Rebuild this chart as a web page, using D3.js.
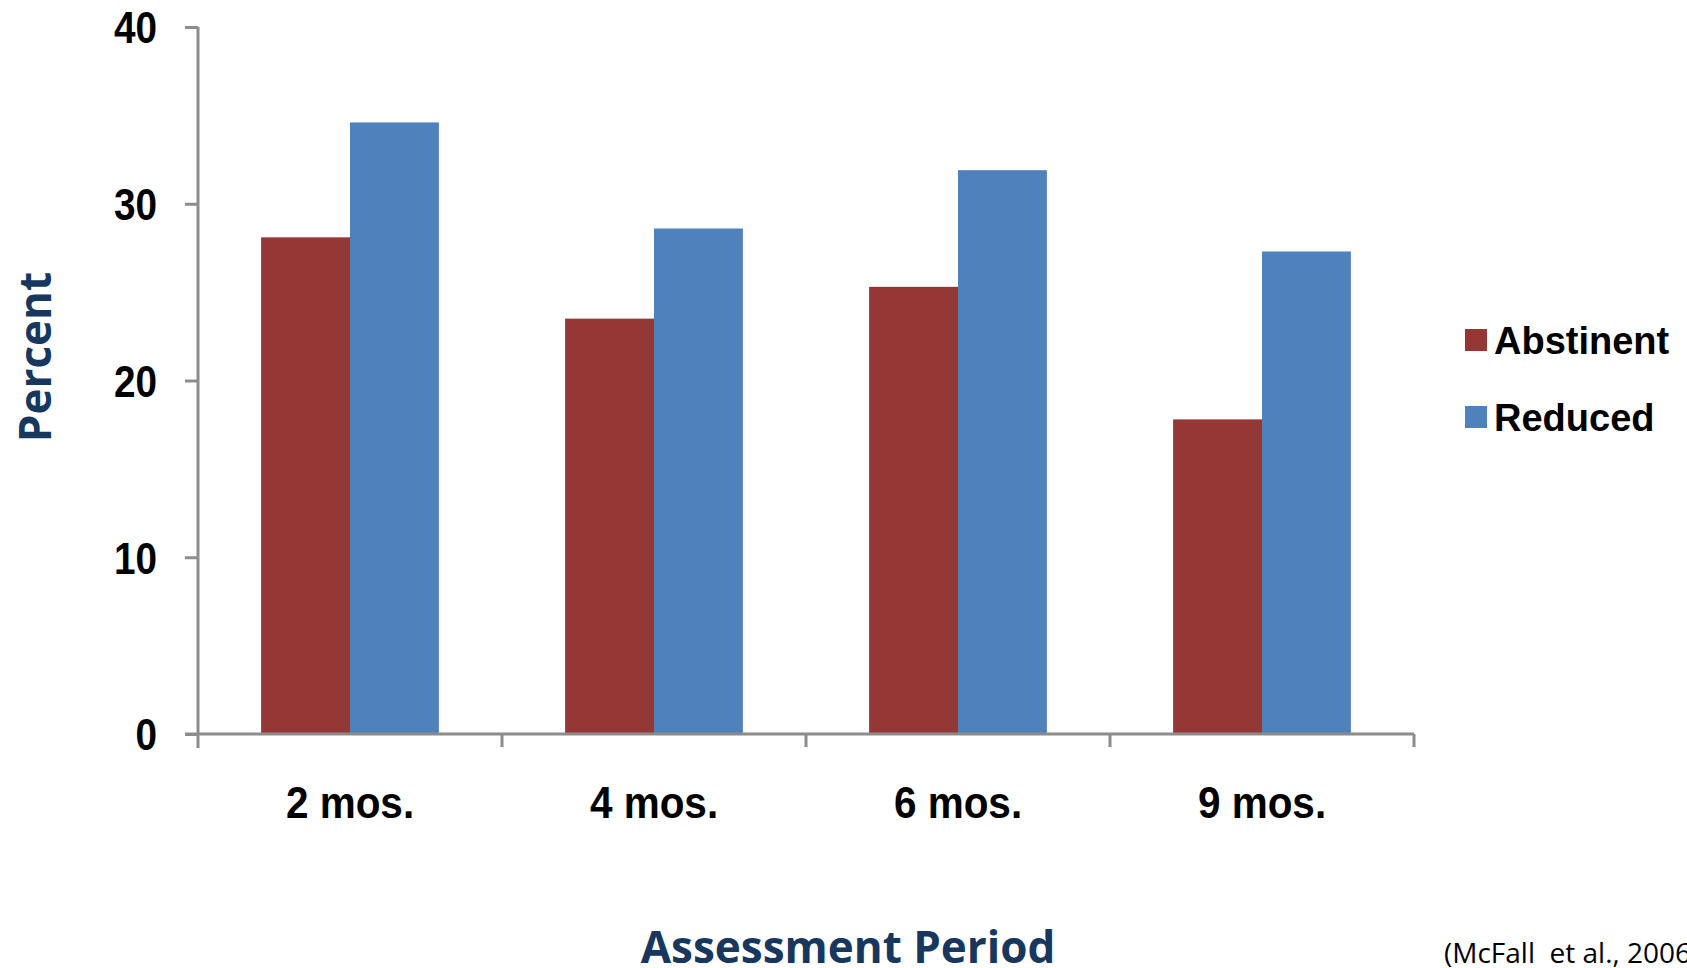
<!DOCTYPE html>
<html lang="en">
	<head>
		<meta charset="utf-8">
		<title>Assessment Period</title>
		<script type="text/javascript" src="https://cdn.jsdelivr.net/npm/d3@7"></script>
		<style type="text/css">
			html, body {
				margin: 0;
				padding: 0;
				background: #ffffff;
				overflow: hidden;
			}
			.narrow {
				font-family: "Liberation Sans", Arial, sans-serif;
				font-weight: bold;
			}
		</style>
	</head>
	<body>
		<script type="text/javascript">

			// data
			let periods = ["2 mos.", "4 mos.", "6 mos.", "9 mos."];
			let seriesNames = ["Abstinent", "Reduced"];
			let abstinent = [28.1, 23.5, 25.3, 17.8];
			let reduced = [34.6, 28.6, 31.9, 27.3];
			let yTicks = [0, 10, 20, 30, 40];

			let colors = ["#953735", "#4f81bd"];
			let axisColor = "#8c8c8c";
			let navy = "#17375e";

			//Width and height
			let w = 1687;
			let h = 968;

			let plotLeft = 198;
			let plotRight = 1414;
			let plotTop = 27;
			let plotBottom = 734;

			// squeeze bold Arial-like text so it looks like Arial Narrow
			function squeeze(sel, k) {
				sel.each(function () {
					let len = this.getComputedTextLength();
					d3.select(this)
						.attr("textLength", len * k)
						.attr("lengthAdjust", "spacingAndGlyphs");
				});
			}

			let svg = d3.select("body")
						.append("svg")
						.attr("width", w)
						.attr("height", h);

			let xScale = d3.scaleBand()
							.domain(periods)
							.range([plotLeft, plotRight])
							.paddingInner(0)
							.paddingOuter(0);

			let xInner = d3.scaleBand()
							.domain(seriesNames)
							.range([0, xScale.bandwidth()])
							.paddingOuter(0.71)
							.paddingInner(0);

			let yScale = d3.scaleLinear()
							.domain([0, 40])
							.range([plotBottom, plotTop]);

			// bars
			let rows = periods.map((p, i) => ({ period: p, values: [abstinent[i], reduced[i]] }));

			let groups = svg.selectAll("g.group")
				.data(rows)
				.enter()
				.append("g")
				.attr("class", "group")
				.attr("transform", (d) => "translate(" + xScale(d.period) + ",0)");

			groups.selectAll("rect")
				.data((d) => d.values.map((v, j) => ({ name: seriesNames[j], value: v, c: colors[j] })))
				.enter()
				.append("rect")
				.attr("x", (d) => xInner(d.name))
				.attr("y", (d) => yScale(d.value))
				.attr("width", xInner.bandwidth())
				.attr("height", (d) => plotBottom - yScale(d.value))
				.attr("fill", (d) => d.c);

			// y axis
			let yAxis = d3.axisLeft(yScale)
							.tickValues(yTicks)
							.tickSize(13)
							.tickPadding(28)
							.tickFormat(d3.format("d"));

			let gy = svg.append("g")
				.attr("transform", "translate(" + plotLeft + ",0)")
				.call(yAxis);

			gy.select(".domain").remove();
			gy.append("line")
				.attr("x1", 0).attr("x2", 0)
				.attr("y1", plotTop).attr("y2", plotBottom + 14)
				.attr("stroke", axisColor)
				.attr("stroke-width", 3);
			gy.selectAll(".tick line")
				.attr("stroke", axisColor)
				.attr("stroke-width", 3);
			gy.selectAll(".tick text")
				.attr("class", "narrow")
				.attr("fill", "#000")
				.attr("font-size", "44px")
				.attr("dy", "0.36em")
				.call(squeeze, 0.88);

			// x axis
			let xAxis = d3.axisBottom(xScale)
							.tickSize(0)
							.tickPadding(84);

			let gx = svg.append("g")
				.attr("transform", "translate(0," + plotBottom + ")")
				.call(xAxis);

			gx.select(".domain").remove();
			gx.append("line")
				.attr("x1", plotLeft - 13).attr("x2", plotRight)
				.attr("y1", 0).attr("y2", 0)
				.attr("stroke", axisColor)
				.attr("stroke-width", 3);

			// category separators
			gx.selectAll("line.sep")
				.data(periods.slice(1).concat(["end"]))
				.enter()
				.append("line")
				.attr("class", "sep")
				.attr("x1", (d) => d === "end" ? plotRight : xScale(d))
				.attr("x2", (d) => d === "end" ? plotRight : xScale(d))
				.attr("y1", 0)
				.attr("y2", 13)
				.attr("stroke", axisColor)
				.attr("stroke-width", 3);

			gx.selectAll(".tick text")
				.attr("class", "narrow")
				.attr("fill", "#000")
				.attr("font-size", "44px")
				.attr("dy", "0")
				.call(squeeze, 0.92);

			// axis titles
			svg.append("text")
				.attr("transform", "translate(51,357) rotate(-90)")
				.attr("text-anchor", "middle")
				.attr("font-family", "'Open Sans', sans-serif")
				.attr("font-weight", "bold")
				.attr("font-size", "44px")
				.attr("fill", navy)
				.text("Percent");

			svg.append("text")
				.attr("x", 848)
				.attr("y", 963)
				.attr("text-anchor", "middle")
				.attr("font-family", "'Open Sans', sans-serif")
				.attr("font-weight", "bold")
				.attr("font-size", "44px")
				.attr("fill", navy)
				.text("Assessment Period");

			// legend
			let legend = svg.selectAll("g.legend")
				.data(seriesNames)
				.enter()
				.append("g")
				.attr("class", "legend")
				.attr("transform", (d, i) => "translate(1465," + (340 + i * 77) + ")");

			legend.append("rect")
				.attr("x", 0)
				.attr("y", -11)
				.attr("width", 22)
				.attr("height", 22)
				.attr("fill", (d, i) => colors[i]);

			legend.append("text")
				.attr("x", 29)
				.attr("y", 0)
				.attr("dy", "0.36em")
				.attr("font-family", "'Liberation Sans', Arial, sans-serif")
				.attr("font-weight", "bold")
				.attr("font-size", "38px")
				.attr("fill", "#000")
				.text((d) => d);

			// source note
			svg.append("text")
				.attr("x", 1444)
				.attr("y", 963)
				.attr("font-family", "'Open Sans', sans-serif")
				.attr("font-size", "28px")
				.attr("fill", "#000")
				.attr("xml:space", "preserve")
				.text("(McFall  et al., 2006)");

		</script>
	</body>
</html>
